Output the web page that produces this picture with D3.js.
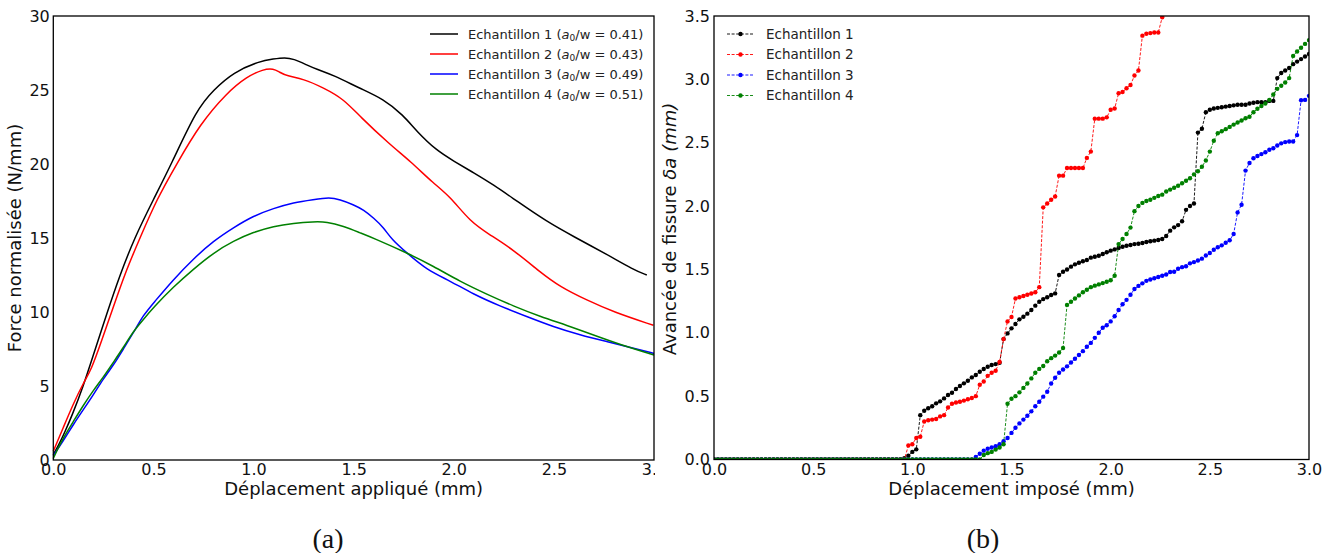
<!DOCTYPE html>
<html><head><meta charset="utf-8">
<script src="https://cdn.jsdelivr.net/npm/d3@7"></script>
<style>body{margin:0;background:#fff} svg{display:block}</style>
</head><body><svg id="c" width="1338" height="553" style="font-family:'DejaVu Sans',sans-serif"></svg>
<script>
// ---------- (a) Force normalisée vs déplacement appliqué ----------
const forceNames = ["Echantillon 1", "Echantillon 2", "Echantillon 3", "Echantillon 4"];
const ratios = ["0.41", "0.43", "0.49", "0.51"];
const colors = ["#000000", "#ff0000", "#0000ff", "#008000"];
const ticksDispA = [0, 0.5, 1.0, 1.5, 2.0, 2.5, 3.0];
const ticksForce = [0, 5, 10, 15, 20, 25, 30];

const force1 = [[0,0.35],[0.03,1.1],[0.058,1.9],[0.092,2.95],[0.15,5.0],[0.2,7.1],[0.27,10.0],[0.33,12.4],[0.405,15.0],[0.5,17.6],[0.59,20.0],[0.716,23.7],[0.8,25.0],[0.9,26.2],[1.03,26.95],[1.1,27.1],[1.157,27.2],[1.2,27.1],[1.265,26.7],[1.315,26.4],[1.40,26.0],[1.532,25.1],[1.648,24.4],[1.748,23.3],[1.815,22.2],[1.915,20.9],[2.0,20.2],[2.1,19.4],[2.198,18.6],[2.314,17.5],[2.465,16.1],[2.598,15.1],[2.764,13.9],[2.898,12.85],[2.964,12.5]];
const force2 = [[0,0.6],[0.05,2.2],[0.1,3.8],[0.15,5.2],[0.19,6.1],[0.24,8.0],[0.291,10.0],[0.366,12.9],[0.433,15.0],[0.516,17.6],[0.616,20.0],[0.733,22.7],[0.866,24.8],[0.966,25.9],[1.049,26.4],[1.099,26.45],[1.13,26.2],[1.166,25.95],[1.249,25.75],[1.349,25.15],[1.449,24.4],[1.532,23.2],[1.682,21.3],[1.782,20.2],[1.898,18.7],[1.982,17.8],[2.082,16.1],[2.182,15.2],[2.298,14.2],[2.431,12.7],[2.531,11.7],[2.665,10.8],[2.798,10.0],[2.997,9.1]];
const force3 = [[0,0.3],[0.05,1.3],[0.1,2.4],[0.15,3.4],[0.2,4.4],[0.25,5.5],[0.3,6.4],[0.35,7.5],[0.4,8.6],[0.45,9.8],[0.5,10.6],[0.6,12.2],[0.7,13.6],[0.8,14.8],[0.9,15.7],[1.0,16.5],[1.1,17.0],[1.2,17.4],[1.3,17.6],[1.38,17.75],[1.43,17.6],[1.5,17.25],[1.55,16.9],[1.6,16.35],[1.65,15.7],[1.69,14.9],[1.765,14.0],[1.865,12.85],[1.982,12.1],[2.098,11.2],[2.231,10.4],[2.364,9.7],[2.498,9.0],[2.631,8.45],[2.764,8.0],[2.898,7.55],[3.0,7.2]];
const force4 = [[0,0.1],[0.02,0.7],[0.05,1.5],[0.1,2.6],[0.15,3.7],[0.2,4.7],[0.25,5.6],[0.3,6.6],[0.35,7.6],[0.4,8.7],[0.45,9.5],[0.5,10.3],[0.6,11.7],[0.7,12.9],[0.8,14.0],[0.9,14.8],[1.0,15.4],[1.1,15.8],[1.2,16.0],[1.3,16.1],[1.365,16.1],[1.449,15.8],[1.532,15.35],[1.598,15.0],[1.765,14.0],[1.898,13.1],[2.032,12.05],[2.165,11.2],[2.298,10.4],[2.431,9.7],[2.565,9.1],[2.698,8.45],[2.831,7.8],[3.0,7.1]];

// ---------- (b) Avancée de fissure vs déplacement imposé ----------
const ticksDispB = [0, 0.5, 1.0, 1.5, 2.0, 2.5, 3.0];
const ticksCrack = [0, 0.5, 1.0, 1.5, 2.0, 2.5, 3.0, 3.5];
const deplacement = [0.00,0.02,0.04,0.06,0.08,0.10,0.12,0.14,0.16,0.18,0.20,0.22,0.24,0.26,0.28,0.30,0.32,0.34,0.36,0.38,0.40,0.42,0.44,0.46,0.48,0.50,0.52,0.54,0.56,0.58,0.60,0.62,0.64,0.66,0.68,0.70,0.72,0.74,0.76,0.78,0.80,0.82,0.84,0.86,0.88,0.90,0.92,0.94,0.96,0.98,1.00,1.02,1.04,1.06,1.08,1.10,1.12,1.14,1.16,1.18,1.20,1.22,1.24,1.26,1.28,1.30,1.32,1.34,1.36,1.38,1.40,1.42,1.44,1.46,1.48,1.50,1.52,1.54,1.56,1.58,1.60,1.62,1.64,1.66,1.68,1.70,1.72,1.74,1.76,1.78,1.80,1.82,1.84,1.86,1.88,1.90,1.92,1.94,1.96,1.98,2.00,2.02,2.04,2.06,2.08,2.10,2.12,2.14,2.16,2.18,2.20,2.22,2.24,2.26,2.28,2.30,2.32,2.34,2.36,2.38,2.40,2.42,2.44,2.46,2.48,2.50,2.52,2.54,2.56,2.58,2.60,2.62,2.64,2.66,2.68,2.70,2.72,2.74,2.76,2.78,2.80,2.82,2.84,2.86,2.88,2.90,2.92,2.94,2.96,2.98,3.00];
const crack1 = [0,0,0,0,0,0,0,0,0,0,0,0,0,0,0,0,0,0,0,0,0,0,0,0,0,0,0,0,0,0,0,0,0,0,0,0,0,0,0,0,0,0,0,0,0,0,0,0,
  0.01,0.03,0.06,0.08,0.35,0.385,0.404,0.42,0.443,0.459,0.482,0.509,0.527,0.556,0.58,0.601,0.622,0.648,0.667,0.693,0.714,0.732,0.746,0.753,0.764,
  0.95,0.995,1.035,1.069,1.106,1.127,1.151,1.18,1.214,1.245,1.266,1.28,1.298,1.311,
  1.456,1.482,1.50,1.522,1.54,1.553,1.564,1.574,1.593,1.60,1.608,1.622,1.635,1.648,1.658,1.669,1.679,1.687,1.693,1.70,1.703,1.708,1.716,1.722,1.727,1.732,1.74,
  1.764,1.806,1.832,1.85,1.88,1.97,2.00,2.02,2.58,2.61,2.74,2.76,2.77,2.775,2.78,2.785,2.79,2.795,2.80,2.80,2.80,2.81,2.815,2.82,2.82,2.82,2.83,2.83,
  3.01,3.05,3.07,3.09,3.12,3.14,3.16,3.18,3.20];
const crack2 = [0,0,0,0,0,0,0,0,0,0,0,0,0,0,0,0,0,0,0,0,0,0,0,0,0,0,0,0,0,0,0,0,0,0,0,0,0,0,0,0,0,0,0,0,0,0,0,0,0,
  0.11,0.12,0.17,0.18,0.30,0.31,0.315,0.32,0.34,0.35,0.41,0.44,0.45,0.456,0.465,0.475,0.485,0.50,0.59,0.615,0.66,0.685,0.70,0.77,
  0.95,1.09,1.125,1.27,1.28,1.29,1.30,1.31,1.32,1.36,
  1.99,2.02,2.05,2.075,2.24,2.24,2.30,2.30,2.30,2.30,2.30,2.38,2.43,2.69,2.69,2.69,2.70,2.76,2.77,2.89,2.90,2.93,2.955,3.03,3.07,3.345,3.36,3.365,3.37,3.37,3.49,3.62];
const crack3 = [0,0,0,0,0,0,0,0,0,0,0,0,0,0,0,0,0,0,0,0,0,0,0,0,0,0,0,0,0,0,0,0,0,0,0,0,0,0,0,0,0,0,0,0,0,0,0,0,0,0,0,0,0,0,0,0,0,0,0,0,0,0,0,0,0,0,
  0.02,0.045,0.07,0.085,0.095,0.105,0.12,0.145,0.17,0.21,0.25,0.285,0.315,0.345,0.38,0.42,0.456,0.496,0.535,0.60,0.645,0.685,0.71,0.735,0.765,0.795,0.825,0.855,0.89,0.92,
  0.96,1.00,1.04,1.06,1.09,1.13,1.18,1.225,1.26,1.30,1.345,1.37,1.39,1.41,1.42,1.43,1.44,1.45,1.46,1.48,1.482,1.505,1.518,1.525,1.548,1.558,1.57,1.585,1.61,1.63,
  1.655,1.675,1.69,1.71,1.73,1.78,1.95,2.01,2.28,2.34,2.377,2.395,2.41,2.425,2.445,2.456,2.478,2.495,2.505,2.51,2.51,2.56,2.835,2.838,2.87];
const crack4 = [0,0,0,0,0,0,0,0,0,0,0,0,0,0,0,0,0,0,0,0,0,0,0,0,0,0,0,0,0,0,0,0,0,0,0,0,0,0,0,0,0,0,0,0,0,0,0,0,0,0,0,0,0,0,0,0,0,0,0,0,0,0,0,0,0,0,0,0,
  0.035,0.05,0.06,0.078,0.095,0.12,0.44,0.48,0.50,0.53,0.565,0.60,0.64,0.685,0.715,0.738,0.775,0.80,0.82,0.845,0.88,
  1.22,1.245,1.27,1.295,1.32,1.34,1.36,1.372,1.382,1.392,1.403,1.415,1.45,1.70,1.74,1.78,1.83,1.96,2.00,2.025,2.04,2.05,2.065,2.08,2.09,2.115,2.13,2.145,2.16,2.18,2.20,2.22,2.25,
  2.275,2.31,2.36,2.43,2.515,2.575,2.59,2.607,2.625,2.643,2.66,2.675,2.693,2.705,2.74,2.768,2.79,2.81,2.838,2.88,2.925,2.95,2.975,3.01,3.185,3.22,3.25,3.28,3.31];

const svg = d3.select("#c");
const defs = svg.append("defs");
const SANS = "'DejaVu Sans', sans-serif";

function styleAxis(g, size) {
  g.select(".domain").remove();
  g.attr("font-family", null).attr("font-size", null);
  g.selectAll("text").style("font-family", SANS).style("font-size", size).attr("fill", "#111");
}

// ===== Panel (a) =====
defs.append("clipPath").attr("id", "clipA").append("rect").attr("x", 0).attr("y", 0).attr("width", 655).attr("height", 553);
const pA = svg.append("g").attr("clip-path", "url(#clipA)");
const xA = d3.scaleLinear().domain([0, 3]).range([53.3, 654]);
const yA = d3.scaleLinear().domain([0, 30]).range([460, 16]);

const lineA = d3.line().x(d => xA(d[0])).y(d => yA(d[1])).curve(d3.curveBasis);
[force1, force2, force3, force4].forEach((s, i) => {
  pA.append("path").attr("d", lineA(s)).attr("fill", "none").attr("stroke", colors[i]).attr("stroke-width", 1.5);
});
pA.append("rect").attr("x", xA(0)).attr("y", yA(30)).attr("width", xA(3) - xA(0)).attr("height", yA(0) - yA(30))
  .attr("fill", "none").attr("stroke", "#000").attr("stroke-width", 1.3);

pA.append("g").attr("transform", `translate(0,${yA(0)})`)
  .call(d3.axisBottom(xA).tickValues(ticksDispA).tickFormat(d3.format(".1f")).tickSize(0).tickPadding(4))
  .call(g => styleAxis(g, "16px"));
pA.append("g").attr("transform", `translate(${xA(0)},0)`)
  .call(d3.axisLeft(yA).tickValues(ticksForce).tickFormat(d3.format("d")).tickSize(0).tickPadding(3.5))
  .call(g => styleAxis(g, "16px"));

pA.append("text").attr("x", (xA(0) + xA(3)) / 2).attr("y", 495).attr("text-anchor", "middle")
  .style("font-size", "18px").attr("fill", "#111").text("Déplacement appliqué (mm)");
pA.append("text").attr("transform", `translate(21,${(yA(0) + yA(30)) / 2}) rotate(-90)`).attr("text-anchor", "middle")
  .style("font-size", "18px").attr("fill", "#111").text("Force normalisée (N/mm)");

// legend (a)
forceNames.forEach((n, i) => {
  const yy = 34 + 20 * i;
  pA.append("line").attr("x1", 430).attr("x2", 458).attr("y1", yy).attr("y2", yy).attr("stroke", colors[i]).attr("stroke-width", 1.5);
  const t = pA.append("text").attr("x", 468).attr("y", yy + 4.7).style("font-size", "13px").attr("fill", "#222");
  t.append("tspan").text(n + " (");
  t.append("tspan").style("font-style", "italic").text("a");
  t.append("tspan").style("font-size", "9px").attr("dy", 2.5).text("0");
  t.append("tspan").attr("dy", -2.5).text("/w = " + ratios[i] + ")");
});

// ===== Panel (b) =====
const xB = d3.scaleLinear().domain([0, 3]).range([714, 1309]);
const yB = d3.scaleLinear().domain([0, 3.5]).range([459.5, 16]);
defs.append("clipPath").attr("id", "clipB").append("rect").attr("x", xB(0)).attr("y", yB(3.5))
  .attr("width", xB(3) - xB(0)).attr("height", yB(0) - yB(3.5));
const pB = svg.append("g");
const plotB = pB.append("g").attr("clip-path", "url(#clipB)");
const lineB = d3.line().x(d => xB(d[0])).y(d => yB(d[1]));
[crack1, crack2, crack3, crack4].forEach((s, i) => {
  const pts = s.map((v, k) => [deplacement[k], v]);
  plotB.append("path").attr("d", lineB(pts)).attr("fill", "none").attr("stroke", colors[i])
    .attr("stroke-width", 0.9).attr("stroke-dasharray", "3,1.6");
  plotB.selectAll(null).data(pts).enter().append("circle")
    .attr("cx", d => xB(d[0])).attr("cy", d => yB(d[1])).attr("r", 2.2).attr("fill", colors[i]);
});
pB.append("rect").attr("x", xB(0)).attr("y", yB(3.5)).attr("width", xB(3) - xB(0)).attr("height", yB(0) - yB(3.5))
  .attr("fill", "none").attr("stroke", "#000").attr("stroke-width", 1.3);

pB.append("g").attr("transform", `translate(0,${yB(0)})`)
  .call(d3.axisBottom(xB).tickValues(ticksDispB).tickFormat(d3.format(".1f")).tickSize(0).tickPadding(4))
  .call(g => styleAxis(g, "16px"));
pB.append("g").attr("transform", `translate(${xB(0)},0)`)
  .call(d3.axisLeft(yB).tickValues(ticksCrack).tickFormat(d3.format(".1f")).tickSize(0).tickPadding(4))
  .call(g => styleAxis(g, "16px"));

pB.append("text").attr("x", (xB(0) + xB(3)) / 2).attr("y", 495).attr("text-anchor", "middle")
  .style("font-size", "18px").attr("fill", "#111").text("Déplacement imposé (mm)");
const yl = pB.append("text").attr("transform", `translate(676,229) rotate(-90)`).attr("text-anchor", "middle")
  .style("font-size", "18px").attr("fill", "#111");
yl.append("tspan").text("Avancée de fissure ");
yl.append("tspan").style("font-style", "italic").text("δa");
yl.append("tspan").text(" ");
yl.append("tspan").style("font-style", "italic").text("(mm)");

// legend (b)
forceNames.forEach((n, i) => {
  const yy = 34 + 20.5 * i;
  pB.append("line").attr("x1", 727).attr("x2", 754).attr("y1", yy).attr("y2", yy).attr("stroke", colors[i])
    .attr("stroke-width", 0.9).attr("stroke-dasharray", "3,1.6");
  pB.append("circle").attr("cx", 740.5).attr("cy", yy).attr("r", 2.2).attr("fill", colors[i]);
  pB.append("text").attr("x", 766).attr("y", yy + 4.9).style("font-size", "13.5px").attr("fill", "#222").text(n);
});

// captions
svg.append("text").attr("x", 328).attr("y", 548).attr("text-anchor", "middle")
  .style("font-family", "'Liberation Serif', serif").style("font-size", "28px").attr("fill", "#111").text("(a)");
svg.append("text").attr("x", 983).attr("y", 548).attr("text-anchor", "middle")
  .style("font-family", "'Liberation Serif', serif").style("font-size", "28px").attr("fill", "#111").text("(b)");
</script></body></html>
